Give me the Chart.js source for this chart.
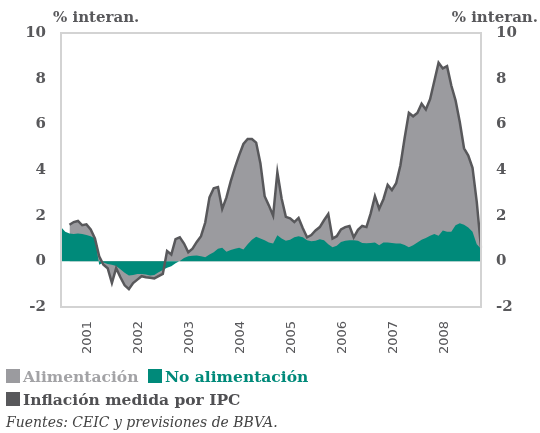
<!DOCTYPE html>
<html>
<head>
<meta charset="utf-8">
<script src="https://cdn.jsdelivr.net/npm/chart.js@4/dist/chart.umd.min.js"></script>
<style>
  html, body { margin: 0; padding: 0; background: #fff; }
  #wrap { position: relative; width: 540px; height: 433px; overflow: hidden; }
  #c { position: absolute; left: 0; top: 0; }
  .unit { position: absolute; top: 8px; font: bold 15px "DejaVu Serif", serif; color: #58585b; white-space: nowrap; }
  .leg { position: absolute; left: 6px; font: bold 15.5px "DejaVu Serif", serif; white-space: nowrap; }
  .sw { display: inline-block; width: 14px; height: 14px; vertical-align: -1px; margin-right: 3px; }
  .foot { position: absolute; left: 6px; top: 414px; font: italic 14px "DejaVu Serif", serif; color: #444; white-space: nowrap; }
</style>
</head>
<body>
<div id="wrap">
  <canvas id="c" width="540" height="433"></canvas>
  <div class="unit" style="left:53px;">% interan.</div>
  <div class="unit" style="right:2px;">% interan.</div>
  <div class="leg" style="top:367px;">
    <span class="sw" style="background:#9b9b9f"></span><span style="color:#a3a3a6">Alimentación</span>
    <span class="sw" style="background:#008a7a;margin-left:4px"></span><span style="color:#008a7a">No alimentación</span>
  </div>
  <div class="leg" style="top:390px;">
    <span class="sw" style="background:#58585b"></span><span style="color:#505053">Inflación medida por IPC</span>
  </div>
  <div class="foot">Fuentes: CEIC y previsiones de BBVA.</div>
</div>
<script>
// Monthly categories, Jan 2001 .. Apr 2009
const startYear = 2001;
const nMonths = 100;
const months = [];
for (let i = 0; i < nMonths; i++) {
  months.push((startYear + Math.floor(i / 12)) + '-' + String(i % 12 + 1).padStart(2, '0'));
}
const yearLabels = ['2001', '2002', '2003', '2004', '2005', '2006', '2007', '2008'];

// Inflación medida por IPC (% interanual)
const ipc = [null, null, 1.6, 1.72, 1.77, 1.58, 1.62, 1.4, 1.0, 0.22,
 -0.15, -0.3, -0.95, -0.3, -0.7, -1.05, -1.22, -0.95, -0.8, -0.65,
 -0.7, -0.72, -0.75, -0.65, -0.55, 0.45, 0.3, 0.97, 1.05, 0.78,
 0.4, 0.55, 0.85, 1.1, 1.7, 2.8, 3.2, 3.25, 2.3, 2.8,
 3.5, 4.1, 4.65, 5.14, 5.36, 5.36, 5.2, 4.3, 2.85, 2.45,
 2.0, 3.9, 2.75, 1.95, 1.88, 1.72, 1.9, 1.45, 1.05, 1.15,
 1.35, 1.5, 1.8, 2.07, 1.0, 1.1, 1.4, 1.5, 1.55, 1.05,
 1.38, 1.55, 1.5, 2.1, 2.85, 2.3, 2.72, 3.35, 3.12, 3.42,
 4.2, 5.4, 6.5, 6.35, 6.5, 6.9, 6.65, 7.1, 7.9, 8.7,
 8.45, 8.55, 7.7, 7.05, 6.1, 4.95, 4.63, 4.1, 2.6, 0.6];

// Contribución no alimentación
const noAlimentacion = [1.5, 1.3, 1.22, 1.2, 1.22, 1.2, 1.15, 1.1, 1.0, -0.15,
 -0.05, -0.12, -0.15, -0.2, -0.35, -0.5, -0.62, -0.6, -0.55, -0.55,
 -0.58, -0.62, -0.6, -0.48, -0.38, -0.28, -0.22, -0.08, 0.02, 0.15,
 0.22, 0.25, 0.26, 0.22, 0.18, 0.3, 0.4, 0.55, 0.6, 0.42,
 0.5, 0.55, 0.6, 0.52, 0.75, 0.95, 1.08, 1.0, 0.92, 0.82,
 0.78, 1.14, 1.0, 0.9, 0.95, 1.05, 1.1, 1.05, 0.92, 0.88,
 0.9, 0.97, 0.92, 0.75, 0.62, 0.68, 0.85, 0.9, 0.92, 0.92,
 0.9, 0.8, 0.79, 0.8, 0.82, 0.7, 0.82, 0.82, 0.8, 0.78,
 0.78, 0.72, 0.62, 0.7, 0.82, 0.94, 1.02, 1.12, 1.2, 1.12,
 1.35, 1.3, 1.3, 1.58, 1.67, 1.6, 1.48, 1.3, 0.75, 0.55];

const yTicks = [-2, 0, 2, 4, 6, 8, 10];

const frame = {
  id: 'frame',
  afterDatasetsDraw(chart) {
    const a = chart.chartArea, ctx = chart.ctx;
    ctx.save();
    ctx.strokeStyle = '#d3d3d3';
    ctx.lineWidth = 2;
    ctx.strokeRect(a.left, a.top, a.right - a.left, a.bottom - a.top);
    ctx.restore();
  }
};

const tickFont = { family: '"DejaVu Serif", serif', size: 15, weight: 'bold' };
const yScale = (pos, w) => ({
  position: pos,
  min: -2, max: 10,
  afterBuildTicks: s => { s.ticks = yTicks.map(v => ({ value: v })); },
  afterFit: s => { s.width = w; },
  grid: { display: false },
  border: { display: false },
  ticks: { color: '#58585b', font: tickFont, padding: 7 }
});

// Draw order: dataset 0 on top. Gray area (total IPC) filled to zero first,
// teal (no alimentación) filled to zero over it, IPC line on top.
new Chart(document.getElementById('c'), {
  type: 'line',
  data: {
    labels: months,
    datasets: [
      { label: 'Inflación medida por IPC', data: ipc, borderColor: '#58585b', borderWidth: 2.5,
        fill: false, pointRadius: 0, tension: 0, yAxisID: 'y' },
      { label: 'No alimentación', data: noAlimentacion, borderWidth: 0, borderColor: 'rgba(0,0,0,0)',
        backgroundColor: '#008a7a', fill: 'origin', pointRadius: 0, tension: 0, yAxisID: 'y' },
      { label: 'Alimentación', data: ipc, borderWidth: 0, borderColor: 'rgba(0,0,0,0)',
        backgroundColor: '#9b9b9f', fill: 'origin', pointRadius: 0, tension: 0, yAxisID: 'y' }
    ]
  },
  options: {
    responsive: false,
    animation: false,
    layout: { padding: { top: 33, bottom: 0, left: 0, right: 0 } },
    plugins: { legend: { display: false }, tooltip: { enabled: false }, filler: { drawTime: 'beforeDatasetDraw' } },
    scales: {
      x: {
        offset: false,
        afterFit: s => { s.height = 126; },
        grid: { display: false, drawTicks: false },
        border: { display: false },
        ticks: {
          autoSkip: false, minRotation: 90, maxRotation: 90, padding: 14, labelOffset: 1.5,
          color: '#58585b', font: { family: '"DejaVu Sans", sans-serif', size: 13 },
          callback: (v, i) => ((i - 6) % 12 === 0 && i >= 6) ? yearLabels[(i - 6) / 12] : ''
        }
      },
      y: yScale('left', 61),
      y2: yScale('right', 59)
    }
  },
  plugins: [frame]
});
</script>
</body>
</html>
